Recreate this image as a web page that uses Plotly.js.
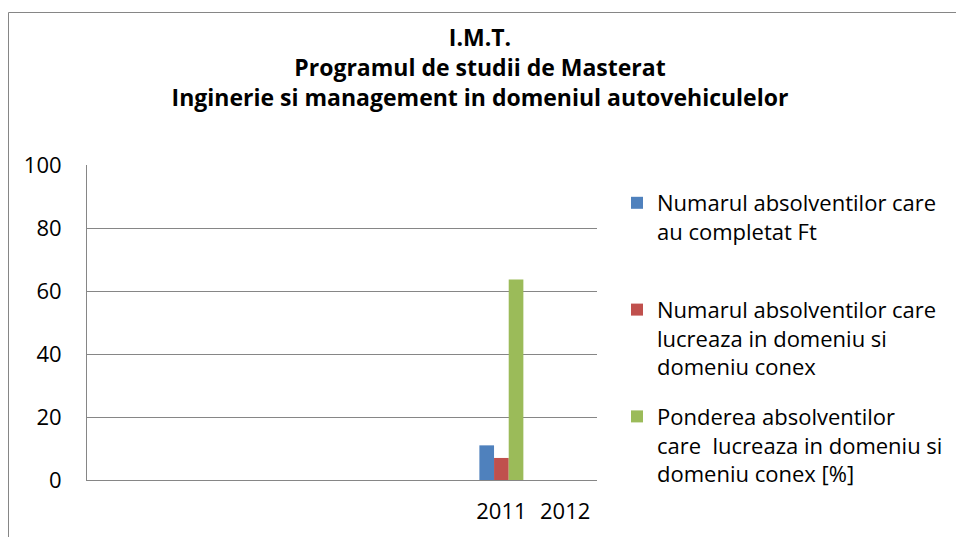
<!DOCTYPE html>
<html>
<head>
<meta charset="utf-8">
<script src="https://cdn.plot.ly/plotly-3.0.1.min.js"></script>
<style>
  html, body { margin: 0; padding: 0; background: #fff; }
  #chart { width: 956px; height: 537px; }
</style>
</head>
<body>
<div id="chart"></div>
<script>
// ---- data ----
const categories = ['c1', 'c2', 'c3', 'c4', 'c5', 'c6', '2011', '2012'];
const tickLabels = ['', '', '', '', '', '', '2011', '2012'];
const seriesNames = [
  'Numarul absolventilor care<br>au completat Ft<br>\u00a0',
  'Numarul absolventilor care<br>lucreaza in domeniu si<br>domeniu conex',
  'Ponderea absolventilor<br>care  lucreaza in domeniu si<br>domeniu conex [%]'
];
const absolventiFt = [null, null, null, null, null, null, 11, null];
const absolventiDomeniu = [null, null, null, null, null, null, 7, null];
const pondere = [null, null, null, null, null, null, 63.64, null];
const yTicks = [0, 20, 40, 60, 80, 100];
const colors = ['#4F81BD', '#C0504D', '#9BBB59'];
const titleText = 'I.M.T.<br>Programul de studii de Masterat<br>Inginerie si management in domeniul autovehiculelor';

const seriesValues = [absolventiFt, absolventiDomeniu, pondere];
const font = 'Open Sans, sans-serif';

const traces = seriesValues.map((vals, i) => ({
  type: 'bar',
  x: categories,
  y: vals,
  name: seriesNames[i],
  legendgroup: 'g' + i,
  marker: { color: colors[i], line: { width: 0 } },
  hoverinfo: 'y'
}));

const L = 87, R = 359, T = 165, B = 57;
const pw = 956 - L - R, ph = 537 - T - B;

const layout = {
  width: 956,
  height: 537,
  margin: { l: L, r: R, t: T, b: B, pad: 0, autoexpand: false },
  paper_bgcolor: '#ffffff',
  plot_bgcolor: '#ffffff',
  font: { family: font, size: 22, color: '#000000' },
  barmode: 'group',
  bargap: 0.31,
  bargroupgap: 0,
  showlegend: true,
  title: {
    text: titleText,
    font: { family: font, size: 23, color: '#000000', weight: 'bold' },
    x: (480 - L) / pw,
    xref: 'paper',
    xanchor: 'center',
    y: 1 - 46 / 537,
    yref: 'container',
    yanchor: 'top'
  },
  xaxis: {
    type: 'category',
    categoryorder: 'array',
    categoryarray: categories,
    tickvals: categories,
    ticktext: tickLabels,
    range: [-0.5, categories.length - 0.5],
    showgrid: false,
    showline: true,
    linecolor: '#868686',
    linewidth: 1,
    ticks: '',
    ticklabelstandoff: 12,
    tickfont: { family: font, size: 22, color: '#000000' },
    fixedrange: true
  },
  yaxis: {
    range: [0, 100],
    tickvals: yTicks,
    ticktext: yTicks.map(String),
    showgrid: true,
    gridcolor: '#868686',
    gridwidth: 1,
    zeroline: false,
    showline: true,
    linecolor: '#868686',
    linewidth: 1,
    ticks: '',
    ticklabelstandoff: 20,
    tickfont: { family: font, size: 22, color: '#000000' },
    fixedrange: true
  },
  legend: {
    x: (617 - L) / pw,
    xanchor: 'left',
    y: (480 - 182) / ph,
    yanchor: 'top',
    traceorder: 'grouped',
    tracegroupgap: 18,
    valign: 'top',
    itemwidth: 30,
    font: { family: font, size: 22, color: '#000000' },
    bgcolor: 'rgba(0,0,0,0)',
    borderwidth: 0
  },
  shapes: [{
    type: 'rect',
    xref: 'paper', yref: 'paper',
    x0: (8.5 - L) / pw, x1: (1000 - L) / pw,
    y0: (480 - 600) / ph, y1: (480 - 12.5) / ph,
    line: { color: '#868686', width: 1 },
    fillcolor: 'rgba(0,0,0,0)',
    layer: 'below'
  }]
};

Plotly.newPlot('chart', traces, layout, { displayModeBar: false, staticPlot: true });
</script>
</body>
</html>
